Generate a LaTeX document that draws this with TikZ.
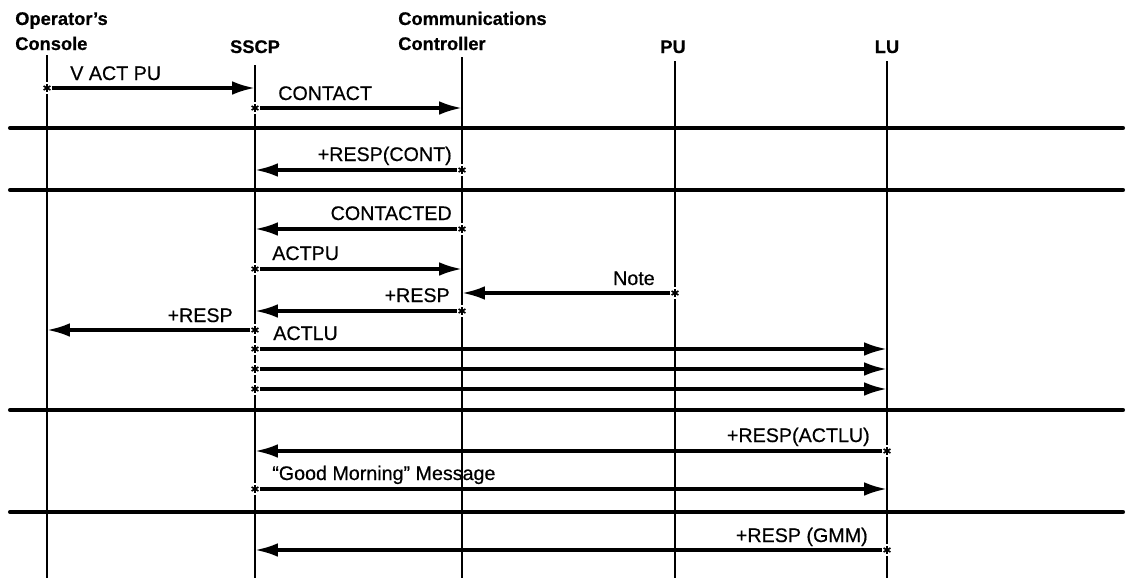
\documentclass[tikz,border=0pt]{standalone}
\usepackage{fontspec}
\setmainfont{Liberation Sans}
\newfontfamily\msgfont{Liberation Sans}[FakeBold=0.5]
\newfontfamily\headfont{Liberation Sans Bold}[FakeBold=0.6]
\usetikzlibrary{arrows.meta,positioning}

\begin{document}
\begin{tikzpicture}[
    x=0.025cm, y=-0.025cm,
    font=\msgfont\fontsize{14}{17}\selectfont,
    head/.style={
        font=\headfont\fontsize{13}{17.8}\selectfont,
        align=left,
        inner sep=0pt
    },
    lbl/.style={
        inner sep=0pt
    },
    life/.style={
        line width=2pt
    },
    phase/.style={
        line width=2.9pt,
        line cap=round
    },
    msg/.style={
        -{Latex[length=0.57cm,width=0.34cm]},
        line width=2.3pt
    },
    src/.style={
        rectangle,
        fill=white,
        inner sep=0pt,
        minimum width=6.5pt,
        minimum height=9pt,
        path picture={
            \foreach \a in {90,30,150}
                \draw[line width=1.2pt]
                    ([shift={(\a:2.8pt)}]path picture bounding box.center) --
                    ([shift={(\a+180:2.8pt)}]path picture bounding box.center);
        }
    }
]
\useasboundingbox (0,0) rectangle (1131,580);

% column heads
\node[head, anchor=base west] (console) at (15,50) {Operator’s\\Console};
\node[head, anchor=base] (sscp) at (255,53) {SSCP};
\node[head, anchor=base west] (ncp) at (398,50) {Communications\\Controller};
\node[head, anchor=base] (pu) at (673,53) {PU};
\node[head, anchor=base] (lu) at (887,53) {LU};

% lifelines
\coordinate (console-top) at (47,55);
\coordinate (console-end) at (47,578);
\coordinate (sscp-top) at (255,65);
\coordinate (sscp-end) at (255,578);
\coordinate (ncp-top) at (462,57);
\coordinate (ncp-end) at (462,578);
\coordinate (pu-top) at (675,61);
\coordinate (pu-end) at (675,578);
\coordinate (lu-top) at (887,61);
\coordinate (lu-end) at (887,578);
\foreach \n in {console,sscp,ncp,pu,lu}
    \draw[life] (\n-top) -- (\n-end);

% phase separators
\foreach \y in {128,190,410,512}
    \draw[phase] (10,\y) -- (1123,\y);

% activation of the PU
\node[src] (m-vactpu) at (47,88) {};
\draw[msg] (m-vactpu) -- (sscp-top |- m-vactpu);
\node[lbl, anchor=base west] (t-vactpu) at (70,80) {V ACT PU};

\node[src] (m-contact) at (255,108) {};
\draw[msg] (m-contact) -- (ncp-top |- m-contact);
\node[lbl, anchor=base west] (t-contact) at (278,100) {CONTACT};

\node[src] (m-respcont) at (462,170) {};
\draw[msg] (m-respcont) -- (sscp-top |- m-respcont);
\node[lbl, anchor=base east] (t-respcont) at (452,161) {+RESP(CONT)};

\node[src] (m-contacted) at (462,229) {};
\draw[msg] (m-contacted) -- (sscp-top |- m-contacted);
\node[lbl, anchor=base east] (t-contacted) at (452,220) {CONTACTED};

\node[src] (m-actpu) at (255,269) {};
\draw[msg] (m-actpu) -- (ncp-top |- m-actpu);
\node[lbl, anchor=base west] (t-actpu) at (272,260) {ACTPU};

\node[src] (m-note) at (675,293) {};
\draw[msg] (m-note) -- (ncp-top |- m-note);
\node[lbl, anchor=base east] (t-note) at (655,285) {Note};

\node[src] (m-resppu) at (462,311) {};
\draw[msg] (m-resppu) -- (sscp-top |- m-resppu);
\node[lbl, anchor=base east] (t-resppu) at (450,302) {+RESP};

\node[src] (m-respop) at (255,330) {};
\draw[msg] (m-respop) -- (console-top |- m-respop);
\node[lbl, anchor=base east] (t-respop) at (233,322) {+RESP};

% activation of the LUs
\foreach \y [count=\i] in {349,369,389} {
    \node[src] (m-actlu\i) at (255,\y) {};
    \draw[msg] (m-actlu\i) -- (lu-top |- m-actlu\i);
}
\node[lbl, anchor=base west] (t-actlu) at (273,340) {ACTLU};

\node[src] (m-respactlu) at (887,451) {};
\draw[msg] (m-respactlu) -- (sscp-top |- m-respactlu);
\node[lbl, anchor=base east] (t-respactlu) at (870,442) {+RESP(ACTLU)};

\node[src] (m-gmm) at (255,489) {};
\draw[msg] (m-gmm) -- (lu-top |- m-gmm);
\node[lbl, anchor=base west] (t-gmm) at (272,480) {“Good Morning” Message};

\node[src] (m-respgmm) at (887,550) {};
\draw[msg] (m-respgmm) -- (sscp-top |- m-respgmm);
\node[lbl, anchor=base east] (t-respgmm) at (868,542) {+RESP (GMM)};

\end{tikzpicture}
\end{document}
